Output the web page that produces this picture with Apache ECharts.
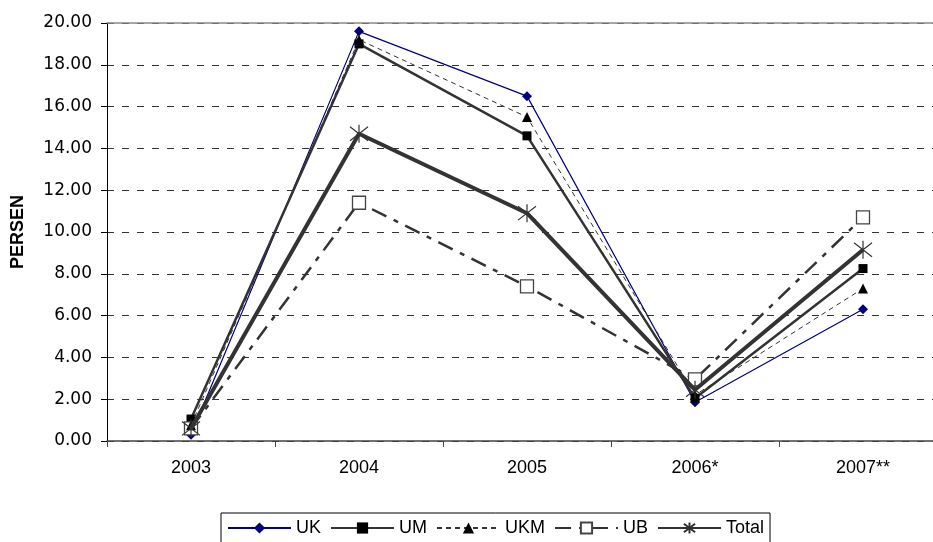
<!DOCTYPE html>
<html>
<head>
<meta charset="utf-8">
<script src="https://cdn.jsdelivr.net/npm/echarts@6/dist/echarts.min.js"></script>
<style>html,body{margin:0;padding:0;background:#fff;overflow:hidden;width:933px;height:542px;}#c{width:947px;height:542px;}</style>
</head>
<body>
<div id="c"></div>
<script>
var categories = ['2003', '2004', '2005', '2006*', '2007**'];
var ukValues = [0.3, 19.6, 16.5, 1.85, 6.3];
var umValues = [1.05, 19.0, 14.6, 2.05, 8.25];
var ukmValues = [0.75, 19.2, 15.5, 2.2, 7.3];
var ubValues = [0.6, 11.4, 7.4, 2.95, 10.7];
var totalValues = [0.6, 14.7, 10.9, 2.45, 9.15];
var yTicks = { min: 0, max: 20, interval: 2 };

var starPath = 'path://M0,0L10,10M10,0L0,10M5,-1.5L5,11.5';

var chart = echarts.init(document.getElementById('c'), null, { renderer: 'canvas' });
chart.setOption({
  animation: false,
  backgroundColor: '#fff',
  grid: { left: 107, top: 23, right: 0, bottom: 101, containLabel: false },
  legend: {
    left: 221, top: 513,
    itemWidth: 63, itemHeight: 14, itemGap: 9,
    padding: [6, 6, 6, 6],
    borderColor: '#000', borderWidth: 1,
    textStyle: { fontFamily: 'Liberation Sans', fontSize: 18, color: '#000' },
    data: ['UK', 'UM', 'UKM', 'UB', 'Total']
  },
  xAxis: [{
    type: 'category',
    data: categories,
    boundaryGap: true,
    axisLine: { lineStyle: { color: '#444', width: 1.5 } },
    axisTick: { show: true, length: 6, lineStyle: { color: '#444' } },
    axisLabel: { fontFamily: 'Liberation Sans', fontSize: 18, color: '#000', margin: 18 },
    splitLine: { show: false }
  }, {
    type: 'category',
    position: 'top',
    data: categories,
    axisLine: { show: true, lineStyle: { color: '#888', width: 1.5 } },
    axisTick: { show: false },
    axisLabel: { show: false },
    splitLine: { show: false }
  }],
  yAxis: {
    type: 'value',
    min: yTicks.min, max: yTicks.max, interval: yTicks.interval,
    name: 'PERSEN',
    nameLocation: 'middle',
    nameGap: 80,
    nameRotate: 90,
    nameTextStyle: { fontFamily: 'Liberation Sans', fontSize: 18, fontWeight: 'bold', color: '#000' },
    axisLine: { show: true, lineStyle: { color: '#000', width: 1 } },
    axisTick: { show: true, length: 6, inside: false, lineStyle: { color: '#000' } },
    axisLabel: {
      fontFamily: 'DejaVu Sans', fontSize: 17, color: '#000', margin: 15,
      formatter: function (v) { return v.toFixed(2); }
    },
    splitLine: { show: true, lineStyle: { color: '#333', width: 1, type: [7, 8] } }
  },
  series: [{
    name: 'UK', type: 'line', data: ukValues,
    symbol: 'diamond', symbolSize: 10,
    lineStyle: { color: '#000080', width: 1.2 },
    itemStyle: { color: '#000080' },
    z: 3
  }, {
    name: 'UM', type: 'line', data: umValues,
    symbol: 'rect', symbolSize: 9,
    lineStyle: { color: '#333', width: 2.5 },
    itemStyle: { color: '#000' },
    z: 3
  }, {
    name: 'UKM', type: 'line', data: ukmValues,
    symbol: 'triangle', symbolSize: 10,
    lineStyle: { color: '#333', width: 1, type: [5, 4] },
    itemStyle: { color: '#000' },
    z: 4
  }, {
    name: 'UB', type: 'line', data: ubValues,
    symbol: 'rect', symbolSize: 13,
    lineStyle: { color: '#333', width: 2.5, type: [16, 8, 5, 8] },
    itemStyle: { color: '#fff', borderColor: '#444', borderWidth: 1.3 },
    z: 3
  }, {
    name: 'Total', type: 'line', data: totalValues,
    symbol: starPath, symbolSize: 18,
    lineStyle: { color: '#333', width: 4 },
    itemStyle: { color: 'rgba(0,0,0,0)', borderColor: '#333', borderWidth: 1.2 },
    z: 5
  }]
});
</script>
</body>
</html>
